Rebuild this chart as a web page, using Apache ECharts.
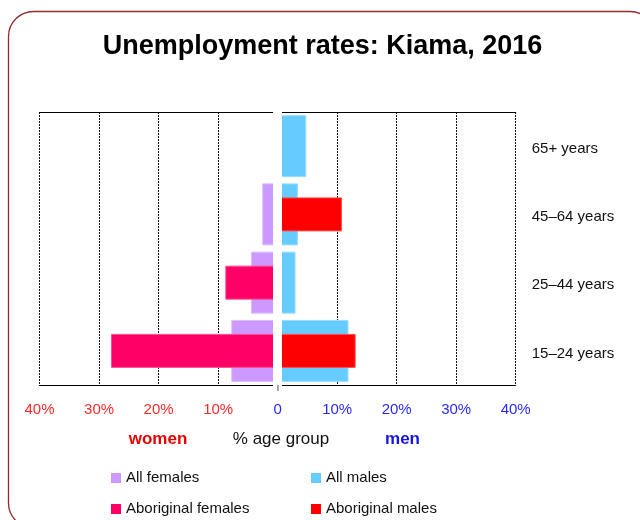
<!DOCTYPE html>
<html>
<head>
<meta charset="utf-8">
<script src="https://cdn.jsdelivr.net/npm/echarts@6/dist/echarts.min.js"></script>
<style>
  html, body { margin: 0; padding: 0; background: #fff; }
  #main { width: 640px; height: 520px; }
</style>
</head>
<body>
<div id="main"></div>
<script>
// age groups, bottom to top
const ageGroups = ['15–24 years', '25–44 years', '45–64 years', '65+ years'];
// unemployment rate, % of age group
const allFemales = [7.8, 4.5, 2.6, 0];
const aboriginalFemales = [28.0, 8.8, 0, 0];
const allMales = [11.9, 3.0, 3.4, 4.8];
const aboriginalMales = [13.1, 0, 10.8, 0];
const pctTicks = [0, 10, 20, 30, 40];

const font = 'Liberation Sans, Arial, sans-serif';
const red = '#ff2a2a';
const blue = '#2a2aff';

const chart = echarts.init(document.getElementById('main'));

const splitLine = { show: true, lineStyle: { color: '#111', type: [2, 1], width: 1 } };
const blackLine = { show: true, onZero: false, lineStyle: { color: '#000', width: 1.2 } };

const valueAxis = (grid, pos, extra) => Object.assign({
  type: 'value', gridIndex: grid, position: pos,
  min: pctTicks[0], max: pctTicks[pctTicks.length - 1], interval: 10,
  axisTick: { show: false },
  axisLabel: { show: false },
  splitLine: { show: false },
  axisLine: blackLine
}, extra);

const legendBase = {
  orient: 'vertical', top: 470, padding: 0, itemGap: 15,
  icon: 'rect', itemWidth: 10, itemHeight: 10,
  itemStyle: { borderWidth: 0 },
  textStyle: { fontSize: 15, color: '#111', lineHeight: 16 }
};

chart.setOption({
  backgroundColor: '#fff',
  animation: false,
  textStyle: { fontFamily: font },
  grid: [
    { left: 39.5, width: 238.2, top: 112, height: 273 },
    { left: 277.7, width: 238, top: 112, height: 273 }
  ],
  xAxis: [
    valueAxis(0, 'bottom', {
      inverse: true,
      splitLine: splitLine,
      axisLabel: { show: true, color: red, fontSize: 15, margin: 17,
        formatter: v => (v === 0 ? '' : v + '%') }
    }),
    valueAxis(0, 'top', { inverse: true }),
    valueAxis(1, 'bottom', {
      splitLine: splitLine,
      axisLabel: { show: true, color: blue, fontSize: 15, margin: 17,
        formatter: v => (v === 0 ? '0' : v + '%') }
    }),
    valueAxis(1, 'top', {}),
    // little tick under the shared zero
    valueAxis(1, 'bottom', {
      z: 20,
      axisLine: { show: false },
      axisTick: { show: true, customValues: [0], length: 6, lineStyle: { color: '#888', width: 1.5 } }
    })
  ],
  yAxis: [
    {
      type: 'category', gridIndex: 0, data: ageGroups, position: 'right', z: 10,
      axisLine: { show: true, onZero: false, lineStyle: { color: '#fff', width: 9, cap: 'square' } },
      axisTick: { show: false }, axisLabel: { show: false }
    },
    { type: 'category', gridIndex: 0, data: ageGroups, show: false },
    {
      type: 'category', gridIndex: 1, data: ageGroups, position: 'right',
      axisLine: { show: false, onZero: false },
      axisTick: { show: false },
      axisLabel: {
        margin: 16,
        formatter: v => '{a|' + v + '}',
        rich: { a: { color: '#111', fontSize: 15, padding: [5, 0, 0, 0] } }
      }
    },
    { type: 'category', gridIndex: 1, data: ageGroups, show: false }
  ],
  legend: [
    Object.assign({ data: ['All females', 'Aboriginal females'], left: 111 }, legendBase),
    Object.assign({ data: ['All males', 'Aboriginal males'], left: 311 }, legendBase)
  ],
  series: [
    {
      name: 'All females', type: 'bar', xAxisIndex: 0, yAxisIndex: 0,
      data: allFemales, barWidth: 62,
      itemStyle: { color: '#cc99ff', borderColor: '#dcbcff', borderWidth: 1 }
    },
    {
      name: 'Aboriginal females', type: 'bar', xAxisIndex: 0, yAxisIndex: 1,
      data: aboriginalFemales, barWidth: 34,
      itemStyle: { color: '#ff0066', borderColor: '#ff4d8f', borderWidth: 1 }
    },
    {
      name: 'All males', type: 'bar', xAxisIndex: 2, yAxisIndex: 2,
      data: allMales, barWidth: 62,
      itemStyle: { color: '#66ccff', borderColor: '#9adcff', borderWidth: 1 }
    },
    {
      name: 'Aboriginal males', type: 'bar', xAxisIndex: 2, yAxisIndex: 3,
      data: aboriginalMales, barWidth: 34,
      itemStyle: { color: '#ff0000', borderColor: '#ff4d4d', borderWidth: 1 }
    }
  ],
  graphic: [
    {
      type: 'rect', z: -1, silent: true,
      shape: { x: 8.5, y: 11.5, width: 646.5, height: 516.5, r: 25 },
      style: { fill: 'none', stroke: '#962b2b', lineWidth: 1.3 }
    },
    {
      type: 'text', x: 322.5, y: 47,
      style: { text: 'Unemployment rates: Kiama, 2016', font: 'bold 27px ' + font,
        fill: '#000', textAlign: 'center', textVerticalAlign: 'middle' }
    },
    {
      type: 'text', x: 158, y: 439,
      style: { text: 'women', font: 'bold 17px ' + font, fill: '#e60000',
        textAlign: 'center', textVerticalAlign: 'middle' }
    },
    {
      type: 'text', x: 281, y: 439,
      style: { text: '% age group', font: '17px ' + font, fill: '#111',
        textAlign: 'center', textVerticalAlign: 'middle' }
    },
    {
      type: 'text', x: 402.5, y: 439,
      style: { text: 'men', font: 'bold 17px ' + font, fill: '#1414e6',
        textAlign: 'center', textVerticalAlign: 'middle' }
    }
  ]
});
</script>
</body>
</html>
